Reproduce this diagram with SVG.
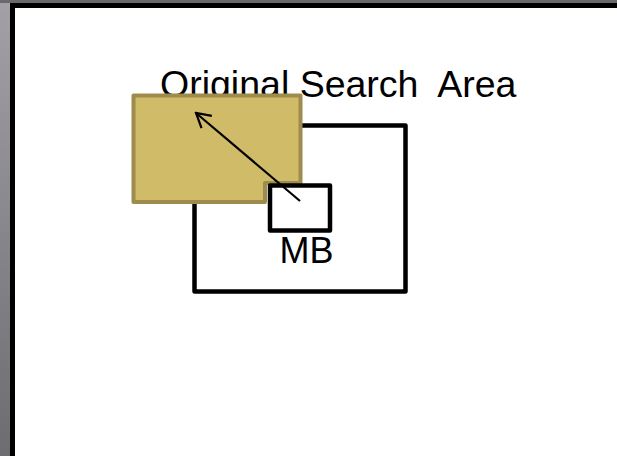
<svg xmlns="http://www.w3.org/2000/svg" width="617" height="456" viewBox="0 0 617 456">
<defs>
<linearGradient id="bg" x1="0" y1="0" x2="0" y2="1">
<stop offset="0" stop-color="#a3a1a7"/>
<stop offset="1" stop-color="#6d6c71"/>
</linearGradient>
<marker id="arr" viewBox="0 0 20 20" refX="18" refY="10" markerWidth="20" markerHeight="20" markerUnits="userSpaceOnUse" orient="auto">
<path d="M4,2 L18,10 L4,18" fill="none" stroke="#000" stroke-width="2.2"/>
</marker>
</defs>
<style>
.lbl{font-family:"Liberation Sans",Arial,sans-serif;font-size:36px;fill:#000;white-space:pre}
.box{fill:none;stroke:#000;stroke-width:4.5;stroke-linejoin:round}
</style>
<rect x="0" y="0" width="617" height="456" fill="url(#bg)"/>
<rect x="0" y="0" width="617" height="3" fill="#6a6a6e"/>
<rect x="12.5" y="5.5" width="620" height="460" fill="#fff" stroke="#000" stroke-width="5"/>
<g id="search-area">
<rect class="box" x="194.5" y="125.5" width="211" height="166"/>
<text class="lbl" x="160" y="97" style="font-size:37.5px" xml:space="preserve">Original Search  Area</text>
</g>
<g id="moved-area">
<path d="M133.5,95.5 H300.5 V183 H265 V202 H133.5 Z" fill="#cfbb68" stroke="#9d8c4c" stroke-width="4" stroke-linejoin="round"/>
</g>
<g id="mb">
<rect class="box" x="270" y="185.5" width="60" height="45"/>
<text class="lbl" x="279.5" y="263">MB</text>
</g>
<g id="connectors">
<line x1="300" y1="201" x2="196" y2="113" stroke="#000" stroke-width="2.2" marker-end="url(#arr)"/>
</g>
</svg>
